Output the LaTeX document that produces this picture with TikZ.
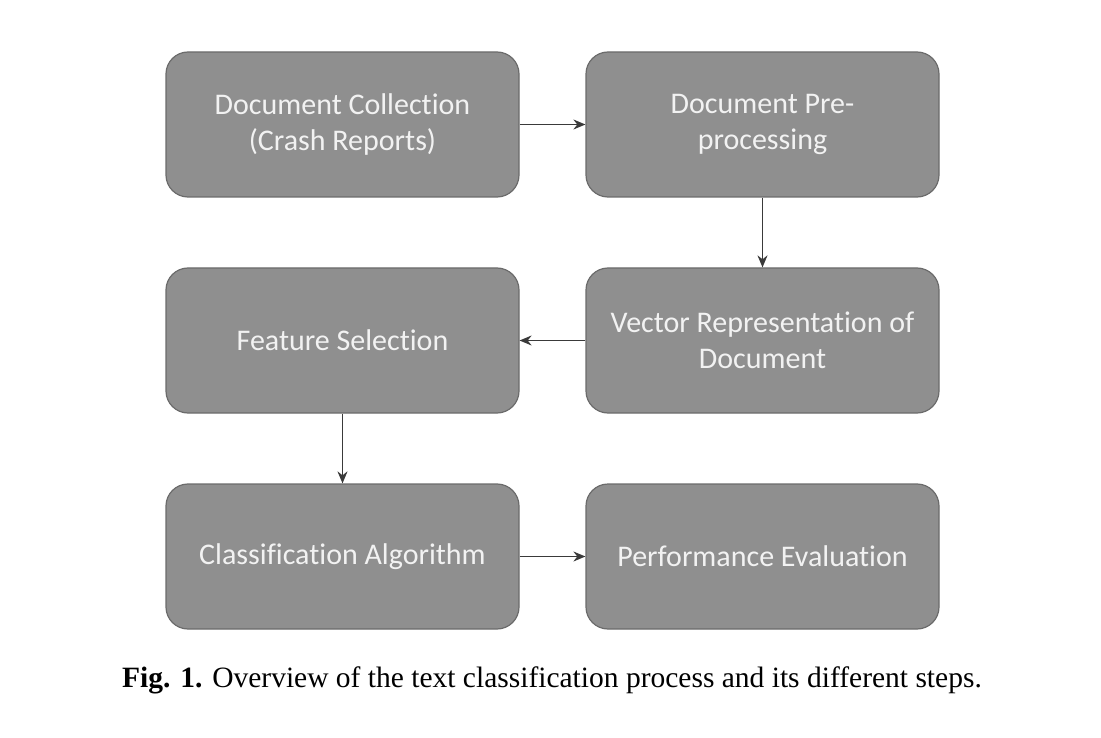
\documentclass[tikz,border=0pt]{standalone}
\usepackage{fontspec}
\setmainfont{Liberation Serif}
\newfontfamily\boxfont[Ligatures=NoCommon]{Carlito}
\usetikzlibrary{arrows.meta}

\definecolor{stepfill}{HTML}{8F8F8F}
\definecolor{stepline}{HTML}{6B6B6B}
\definecolor{arrowgray}{HTML}{3A3A3A}

\tikzset{
  stepbox/.style={draw=stepline, line width=1.2pt, fill=stepfill, rounded corners=22pt,
    minimum width=353pt, minimum height=145pt, align=center, text=white!95!black,
    font=\boxfont\fontsize{30}{36}\selectfont},
  flow/.style={draw=arrowgray, line width=1.5pt, -{Stealth[length=12pt,width=10pt]}}
}

\begin{document}
\begin{tikzpicture}[x=1pt,y=-1pt]
            \useasboundingbox (0,0) rectangle (1101,738); %
            \node[stepbox] (collect) at (342.5,124.5) {Document Collection\\(Crash Reports)} ; %
            \node[stepbox] (preproc) at (762.5,124.5) {Document Pre-\\processing} ; %
            \node[stepbox] (vector) at (762.5,340.5) {Vector Representation of\\Document} ; %
            \node[stepbox] (feature) at (342.5,340.5) {Feature Selection} ; %
            \node[stepbox] (classify) at (342.5,556.5) {Classification Algorithm} ; %
            \node[stepbox] (evaluate) at (762.5,556.5) {Performance Evaluation} ; %

            \node (caption) at (552,680) {\fontsize{29.5}{34}\selectfont\textbf{Fig. 1.} Overview of the text classification process and its different steps.} ; %

            \draw[flow] (collect) -- (preproc); %
            \draw[flow] (preproc) -- (vector); %
            \draw[flow] (vector) -- (feature); %
            \draw[flow] (feature) -- (classify); %
            \draw[flow] (classify) -- (evaluate); %
	\end{tikzpicture}
\end{document}
